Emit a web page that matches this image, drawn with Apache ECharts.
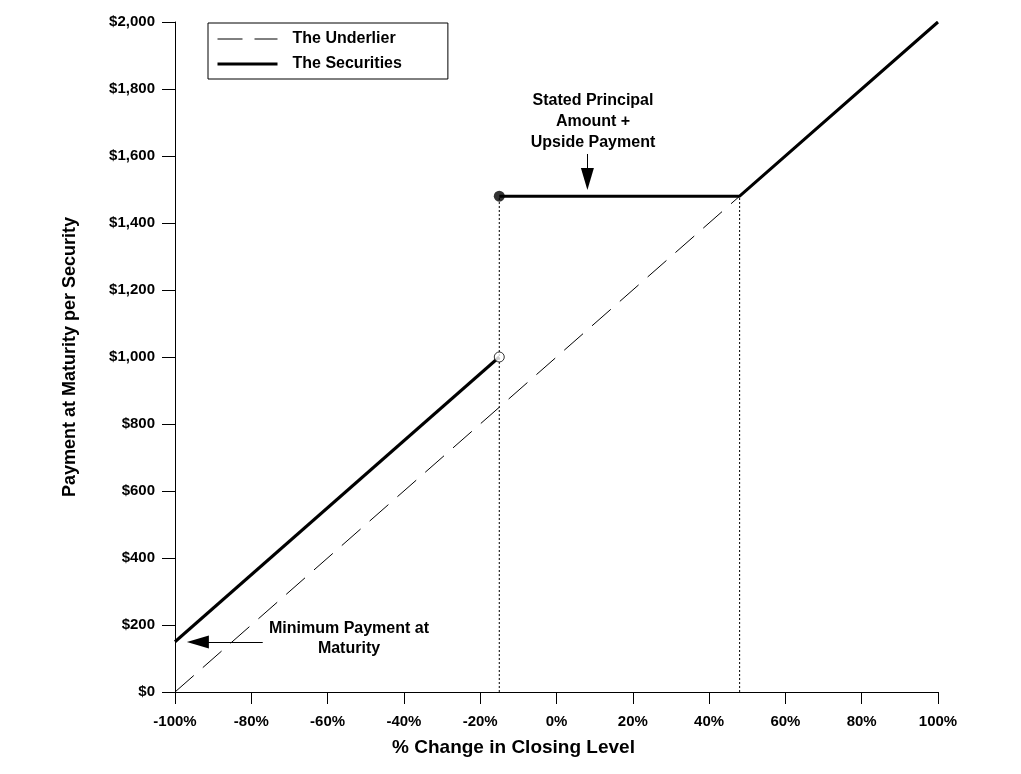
<!DOCTYPE html>
<html>
<head>
<meta charset="utf-8">
<script src="https://cdn.jsdelivr.net/npm/echarts@6/dist/echarts.min.js"></script>
<style>
html, body { margin: 0; padding: 0; background: #fff; }
#chart { width: 1021px; height: 774px; }
</style>
</head>
<body>
<div id="chart"></div>
<script>
// 数据
var underlierX = [-100, 100];
var underlierY = [0, 2000];
var lowerX = [-100, -15];
var lowerY = [150, 1000];
var upperX = [-15, 48, 100];
var upperY = [1480, 1480, 2000];
var barrierX = -15;
var capX = 48;
var capY = 1480;

function pairs(xs, ys) {
	var out = [];
	for (var i = 0; i < xs.length; i++) out.push([xs[i], ys[i]]);
	return out;
}

var myChart = echarts.init(document.getElementById('chart'));
var font = "'Liberation Sans', Arial, sans-serif";
var dash = [25, 12];

var option = {
	animation: false,
	backgroundColor: '#fff',
	grid: { left: 175, right: 83, top: 22, bottom: 82 },
	legend: {
		left: 208, top: 23,
		orient: 'vertical',
		data: [{
			name: 'The Underlier',
			itemStyle: { opacity: 0 },
			lineStyle: { color: '#000', width: 1, type: dash }
		}, {
			name: 'The Securities',
			itemStyle: { opacity: 0 },
			lineStyle: { color: '#000', width: 3, type: 'solid' }
		}],
		backgroundColor: '#fff',
		borderColor: '#000', borderWidth: 1,
		padding: [8, 46, 7, 8],
		itemWidth: 60, itemHeight: 14, itemGap: 9,
		textStyle: { fontFamily: font, fontWeight: 'bold', fontSize: 16, color: '#000', padding: [0, 0, 0, 10] }
	},
	xAxis: {
		type: 'value', min: -100, max: 100, interval: 20,
		name: '% Change in Closing Level', nameLocation: 'middle', nameGap: 46,
		nameTextStyle: { fontFamily: font, fontWeight: 'bold', fontSize: 19, color: '#000', padding: [0, 86, 0, 0] },
		axisLine: { onZero: false, lineStyle: { color: '#000', width: 1 } },
		axisTick: { length: 12, lineStyle: { color: '#000' } },
		axisLabel: { formatter: '{value}%', fontFamily: font, fontWeight: 'bold', fontSize: 15, color: '#000', margin: 22 },
		splitLine: { show: false }
	},
	yAxis: {
		type: 'value', min: 0, max: 2000, interval: 200,
		name: 'Payment at Maturity per Security', nameLocation: 'middle', nameGap: 96, nameRotate: 90,
		nameTextStyle: { fontFamily: font, fontWeight: 'bold', fontSize: 18, color: '#000' },
		axisLine: { show: true, onZero: false, lineStyle: { color: '#000', width: 1 } },
		axisTick: { show: true, length: 13, lineStyle: { color: '#000' } },
		axisLabel: {
			formatter: function(v) { return '$' + v.toLocaleString('en-US'); },
			fontFamily: font, fontWeight: 'bold', fontSize: 15, color: '#000', margin: 20
		},
		splitLine: { show: false }
	},
	series: [{
		name: 'The Underlier',
		type: 'line',
		symbol: 'none',
		data: pairs(underlierX, underlierY),
		lineStyle: { color: '#000', width: 1, type: dash },
		itemStyle: { color: '#000' }
	}, {
		name: 'The Securities',
		type: 'line',
		symbol: 'none',
		data: pairs(lowerX, lowerY),
		lineStyle: { color: '#000', width: 3 },
		itemStyle: { color: '#000' },
		z: 3
	}, {
		name: 'The Securities',
		type: 'line',
		symbol: 'none',
		data: pairs(upperX, upperY),
		lineStyle: { color: '#000', width: 3 },
		itemStyle: { color: '#000' },
		z: 3,
		markLine: {
			silent: true,
			symbol: ['none', 'triangle'],
			symbolSize: [13, 22],
			lineStyle: { color: '#000', width: 1, type: 'solid' },
			label: { show: false },
			data: [
				[{ coord: [8.1, 1606] }, { coord: [8.1, 1531] }],
				[{ coord: [-77, 149] }, { coord: [-94, 149] }]
			]
		}
	}, {
		// 垂直虚线
		type: 'line', symbol: 'none',
		data: [[barrierX, 0], [barrierX, capY]],
		lineStyle: { color: '#000', width: 1, type: [2, 2] }
	}, {
		type: 'line', symbol: 'none',
		data: [[capX, 0], [capX, capY]],
		lineStyle: { color: '#000', width: 1, type: [2, 2] }
	}, {
		type: 'scatter',
		symbolSize: 11,
		data: [[barrierX, capY]],
		itemStyle: { color: '#000' },
		z: 5
	}, {
		type: 'scatter',
		symbolSize: 10,
		data: [[lowerX[1], lowerY[1]]],
		itemStyle: { color: '#fff', borderColor: '#000', borderWidth: 1 },
		z: 5
	}],
	graphic: [{
		type: 'text', x: 593, y: 90,
		style: {
			text: 'Stated Principal\nAmount +\nUpside Payment',
			align: 'center', lineHeight: 21,
			fontFamily: font, fontWeight: 'bold', fontSize: 16, fill: '#000'
		}
	}, {
		type: 'text', x: 349, y: 619,
		style: {
			text: 'Minimum Payment at\nMaturity',
			align: 'center', lineHeight: 20,
			fontFamily: font, fontWeight: 'bold', fontSize: 16, fill: '#000'
		}
	}]
};

myChart.setOption(option);
window.addEventListener('resize', function() {
	myChart.resize();
});
</script>
</body>
</html>
